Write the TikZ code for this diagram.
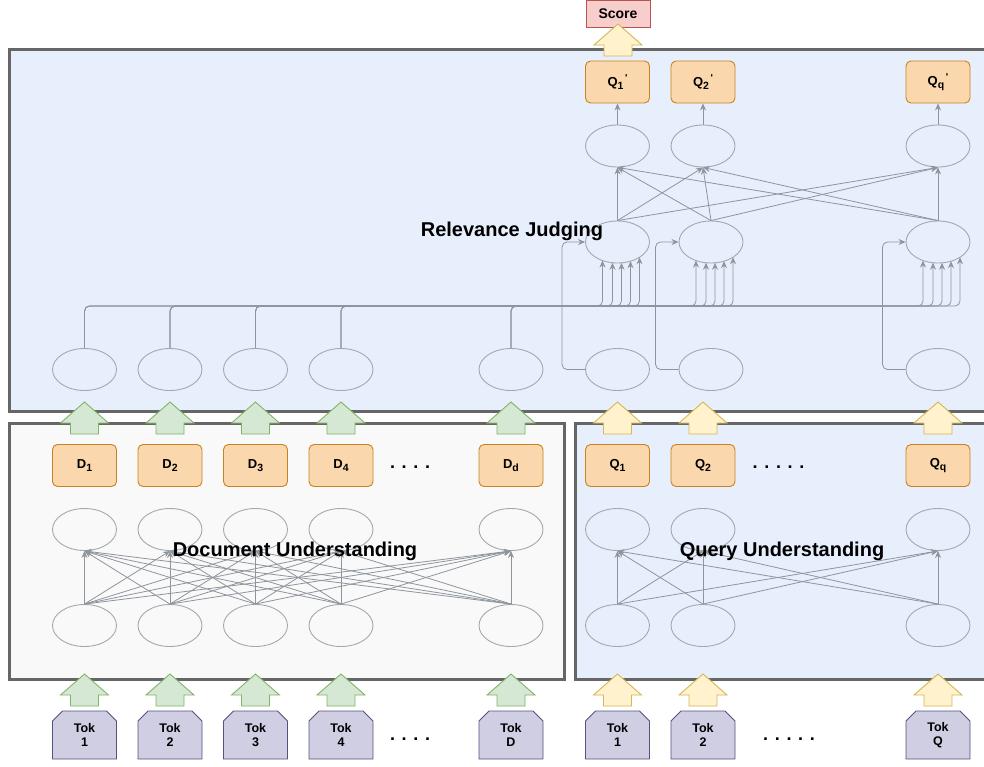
\documentclass[tikz,border=0pt]{standalone}
\usepackage{fontspec}
\setmainfont{Liberation Sans}
\usetikzlibrary{positioning,calc,arrows.meta,shapes.geometric,shapes.misc}

\definecolor{boxblue}{HTML}{E8EFFC}
\definecolor{boxgray}{HTML}{F9F9F9}
\definecolor{frame}{HTML}{666666}
\definecolor{orangefill}{HTML}{FAD7AC}
\definecolor{orangeline}{HTML}{C9821F}
\definecolor{greenfill}{HTML}{D5E8D4}
\definecolor{greenline}{HTML}{82B366}
\definecolor{yellowfill}{HTML}{FFF2CC}
\definecolor{yellowline}{HTML}{D6B656}
\definecolor{redfill}{HTML}{F8CECC}
\definecolor{redline}{HTML}{B85450}
\definecolor{tokfill}{HTML}{D0CEE2}
\definecolor{tokline}{HTML}{56517E}
\definecolor{wirecol}{HTML}{8E959D}
\definecolor{cellline}{HTML}{A4A8AE}

\newcommand\lowidx[1]{\raisebox{-3pt}{\fontsize{10.5}{10.5}\selectfont#1}}
\newcommand\qprime{\raisebox{5.5pt}{\fontsize{10}{10}\selectfont\,\textquotesingle}}

\tikzset{
  stage/.style={draw=frame,line width=3pt},
  cell/.style={ellipse,draw=cellline,line width=0.9pt,minimum width=64pt,minimum height=42pt,inner sep=0pt},
  vec/.style={rectangle,rounded corners=5pt,draw=orangeline,fill=orangefill,line width=0.9pt,
    minimum width=64pt,minimum height=42pt,inner sep=0pt,font=\fontsize{13}{13}\selectfont\bfseries},
  tok/.style={chamfered rectangle,chamfered rectangle corners={north west,north east},
    chamfered rectangle xsep=5pt,chamfered rectangle ysep=5pt,draw=tokline,fill=tokfill,line width=0.9pt,
    minimum width=64pt,minimum height=48pt,inner sep=0pt,align=center,font=\fontsize{12.5}{14}\selectfont\bfseries},
  score/.style={rectangle,draw=redline,fill=redfill,line width=0.9pt,minimum width=64pt,minimum height=27pt,
    inner sep=0pt,font=\fontsize{14}{14}\selectfont\bfseries},
  wire/.style={draw=wirecol,line width=0.8pt,-{Stealth[length=7pt,width=6pt]}},
  title/.style={font=\fontsize{20}{20}\selectfont\bfseries},
  dots/.style={anchor=base,inner sep=0pt,font=\fontsize{18}{18}\selectfont\bfseries},
  greenup/.style={draw=greenline,fill=greenfill,line width=0.9pt},
  yellowup/.style={draw=yellowline,fill=yellowfill,line width=0.9pt},
  pics/blockup/.style={code={
    \path[pic actions] (0,0) -- (24,21) -- (14,21) -- (14,32) -- (-14,32) -- (-14,21) -- (-24,21) -- cycle;}}
}

\begin{document}
\begin{tikzpicture}[x=1pt,y=-1pt]
  \useasboundingbox (0,0) rectangle (984,766);

  % stages
  \draw[stage,fill=boxblue] (9.5,49.5) rectangle (990,411.5);
  \draw[stage,fill=boxgray] (9.5,423) rectangle (564.5,679);
  \draw[stage,fill=boxblue] (575.5,423) rectangle (990,679);

  % document side
  \foreach \x/\lab/\tlab [count=\i] in {84.5/1/1,170/2/2,255.5/3/3,341/4/4,511/d/D} {
    \node[tok] (td\i) at (\x,735) {Tok\\\tlab};
    \node[cell] (dl\i) at (\x,625.5) {};
    \node[cell] (dh\i) at (\x,529.5) {};
    \node[vec] (d\i) at (\x,465.5) {D\lowidx{\lab}};
    \node[cell] (rd\i) at (\x,369.5) {};
    \pic[greenup] at (\x,674) {blockup};
    \pic[greenup] at (\x,402) {blockup};
  }

  % query side
  \foreach \x/\lab/\tlab [count=\i] in {617.5/1/1,703/2/2,938/q/Q} {
    \node[tok] (tq\i) at (\x,735) {Tok\\\tlab};
    \node[cell] (ql\i) at (\x,625.5) {};
    \node[cell] (qh\i) at (\x,529.5) {};
    \node[vec] (q\i) at (\x,465.5) {Q\lowidx{\lab}};
    \node[cell] (rt\i) at (\x,146) {};
    \node[vec] (qp\i) at (\x,82) {Q\lowidx{\lab}\qprime};
    \pic[yellowup] at (\x,674) {blockup};
    \pic[yellowup] at (\x,402) {blockup};
  }
  \foreach \x [count=\i] in {617.5,711,938} {
    \node[cell] (rq\i) at (\x,369.5) {};
    \node[cell] (rj\i) at (\x,242) {};
  }

  \node[score] (score) at (618,14) {Score};
  \pic[yellowup] at (618,24) {blockup};

  % understanding layers
  \foreach \i in {1,...,5}
    \foreach \j in {1,...,5}
      \draw[wire] (dl\i.north) -- (dh\j.south);
  \foreach \i in {1,...,3}
    \foreach \j in {1,...,3}
      \draw[wire] (ql\i.north) -- (qh\j.south);

  % document vectors into relevance cells
  \foreach \j/\x in {1/617.5,2/711,3/938}
    \foreach \i/\dx in {1/-15,2/-5,3/4,4/13,5/22} {
      \pgfmathsetmacro\tipy{242+21*sqrt(1-(\dx/32)^2)}
      \draw[wire,rounded corners=5pt] (rd\i.north) |- (\x+\dx,306) -- (\x+\dx,\tipy);
    }

  % query vectors into relevance cells
  \foreach \i in {1,...,3}
    \draw[wire,rounded corners=5pt] (rq\i.west) -- ++(-23,0) |- (rj\i.west);

  % relevance layers
  \foreach \i in {1,...,3}
    \foreach \j in {1,...,3}
      \draw[wire] (rj\i.north) -- (rt\j.south);
  \foreach \i in {1,...,3}
    \draw[wire] (rt\i.north) -- (qp\i.south);

  % dots
  \node[dots] (ddots) at (410,468) {. . . .};
  \node[dots] (qdots) at (778.5,468) {. . . . .};
  \node[dots] (tddots) at (410,740) {. . . .};
  \node[dots] (tqdots) at (789,740) {. . . . .};

  % titles
  \node[title] (rel) at (512,231) {Relevance Judging};
  \node[title] (doc) at (295,551) {Document Understanding};
  \node[title] (qry) at (782,551) {Query Understanding};
\end{tikzpicture}
\end{document}
